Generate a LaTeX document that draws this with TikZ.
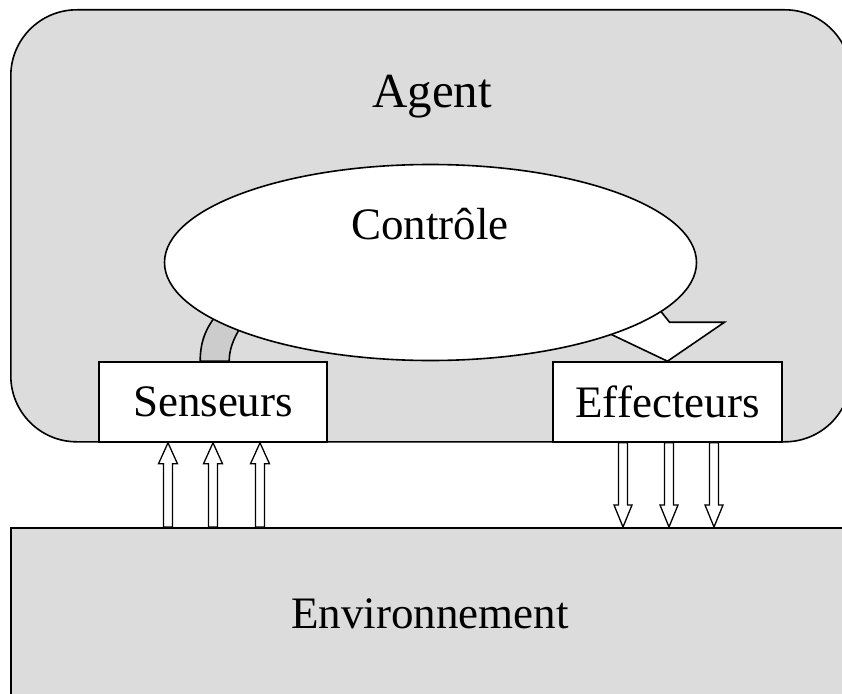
\documentclass[tikz,border=0pt]{standalone}
\usepackage{fontspec}
\setmainfont{Liberation Serif}
\usetikzlibrary{calc,shapes.geometric}
\definecolor{panelgray}{HTML}{DCDCDC}
\definecolor{bandgray}{HTML}{CCCCCC}
\begin{document}
\begin{tikzpicture}[x=1pt,y=-1pt,line join=miter,
  outline/.style={draw=black,line width=1.6pt},
  panel/.style={outline,fill=panelgray,rectangle,inner sep=0pt,anchor=north west},
  whitebox/.style={outline,fill=white,rectangle,inner sep=0pt,
    minimum width=228pt,minimum height=80pt,font=\fontsize{45}{50}\selectfont},
  lbl/.style={font=\fontsize{45}{50}\selectfont,inner sep=0pt,anchor=base},
  blockarrow/.style={draw=black,line width=1.3pt,fill=white},
]
\useasboundingbox (0,0) rectangle (842,693);

% agent panel with its title
\node[panel,rounded corners=66pt,minimum width=840pt,minimum height=432pt] (agent) at (10,9) {};
\node[lbl,font=\fontsize{49}{54}\selectfont] (agentlbl) at (432,107) {Agent};

% sensor and effector boxes
\node[whitebox] (sens) at (213,402) {Senseurs};
\node[whitebox,minimum width=229pt] (eff) at (667.5,402) {Effecteurs};

% wide arrow from the sensors up into the control
\begin{scope}[shift={(sens.north west)}]
  \draw[outline,fill=bandgray] (102,0) .. controls (102,-22) and (109,-36) .. (123,-52)
    -- (163,-62) .. controls (146,-40) and (131,-22) .. (131,0) -- cycle;
\end{scope}

% block arrow from the control down to the effectors
\begin{scope}[shift={(eff.north)}]
  \draw[outline,fill=white] (0,0) -- (57,-39) -- (2,-39) -- (-38,-89)
    -- (-67,-89) -- (-27,-39) -- (-82,-39) -- cycle;
\end{scope}

% control ellipse
\node[outline,fill=white,ellipse,minimum width=532pt,minimum height=196pt,inner sep=0pt]
  (ctrl) at (430.5,262.5) {};
\node[lbl] (ctrllbl) at (430,239) {Contrôle};

% environment panel
\node[panel,minimum width=850pt,minimum height=200pt] (env) at (10,527) {};
\node[lbl] (envlbl) at (430,628) {Environnement};

% perception arrows: environment -> sensors
\foreach \cx in {168,213,260}{
  \coordinate (t) at (\cx,0 |- sens.south);
  \coordinate (b) at (\cx,0 |- env.north);
  \draw[blockarrow] (t) -- ($(t)+(9.5,21)$) -- ($(t)+(4.5,21)$) -- ($(b)+(4.5,0)$)
    -- ($(b)+(-4.5,0)$) -- ($(t)+(-4.5,21)$) -- ($(t)+(-9.5,21)$) -- cycle;
}

% action arrows: effectors -> environment
\foreach \cx in {623,669,714}{
  \coordinate (b) at (\cx,0 |- eff.south);
  \coordinate (t) at (\cx,0 |- env.north);
  \draw[blockarrow] (t) -- ($(t)+(9,-22)$) -- ($(t)+(4.5,-22)$) -- ($(b)+(4.5,0)$)
    -- ($(b)+(-4.5,0)$) -- ($(t)+(-4.5,-22)$) -- ($(t)+(-9,-22)$) -- cycle;
}
\end{tikzpicture}
\end{document}
